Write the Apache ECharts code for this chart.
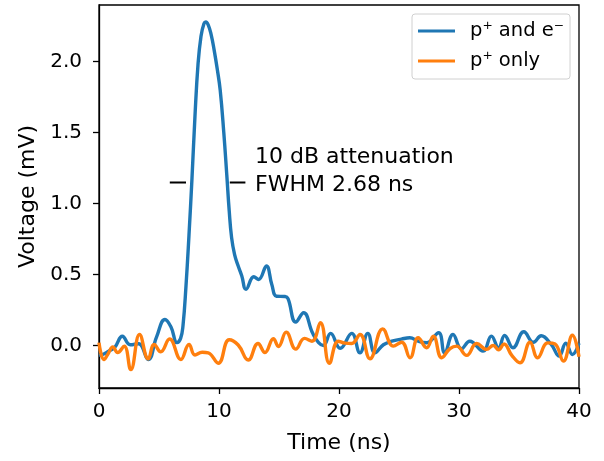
<!DOCTYPE html>
<html>
<head>
<meta charset="utf-8">
<script src="https://cdn.jsdelivr.net/npm/echarts@6/dist/echarts.min.js"></script>
<style>
  html, body { margin: 0; padding: 0; background: #fff; }
  #chart { width: 604px; height: 461px; }
</style>
</head>
<body>
<div id="chart"></div>
<script>
// p+ and e- (blue)
const blueTime = [0.0, 0.4, 0.8, 1.3, 1.95, 2.6, 3.3, 4.1, 4.8, 5.5, 6.0, 6.5, 6.8, 7.0, 7.25, 7.5, 7.75, 8.0, 8.25, 8.5,
  8.75, 8.9, 9.1, 9.35, 9.6, 9.85, 10.1, 10.4, 10.65, 10.85, 11.05, 11.3, 11.6, 11.9, 12.25, 12.9, 13.3, 13.95, 14.4, 14.8,
  15.5, 15.75, 16.4, 17.05, 17.8, 18.3, 18.7, 19.3, 20.1, 21.06, 21.75, 22.4, 23.0, 23.7, 24.4, 25.2, 25.9, 26.6, 27.3, 28.3,
  28.8, 29.5, 30.2, 30.9, 32.0, 32.7, 33.3, 33.8, 34.5, 35.4, 36.2, 36.85, 37.7, 38.35, 38.9, 39.45, 40.0];
const blueVolt = [-0.07, -0.06, -0.04, -0.015, 0.065, 0.005, 0.012, -0.1, 0.06, 0.183, 0.13, 0.02, 0.05, 0.14, 0.42, 0.78, 1.18, 1.62, 1.98, 2.18,
  2.27, 2.28, 2.26, 2.19, 2.08, 1.95, 1.8, 1.5, 1.2, 0.95, 0.76, 0.64, 0.56, 0.49, 0.395, 0.484, 0.465, 0.56, 0.43, 0.347,
  0.345, 0.33, 0.165, 0.23, 0.087, 0.02, 0.0, 0.085, -0.02, 0.085, -0.052, 0.085, -0.052, 0.005, 0.03, 0.045, 0.054, 0.03, 0.019, 0.089,
  -0.052, 0.077, -0.023, 0.03, -0.04, 0.066, -0.016, 0.07, -0.016, 0.097, 0.022, 0.068, 0.005, -0.075, 0.015, -0.064, 0.015];

// p+ only (orange)
const orangeTime = [0.0, 0.42, 0.75, 1.15, 1.55, 2.1, 2.65, 3.38, 4.1, 4.6, 5.14, 5.88, 6.82, 7.5, 8.0, 8.6, 9.1, 9.94, 10.85, 11.6,
  12.44, 13.25, 13.83, 14.53, 14.95, 15.6, 16.4, 17.13, 17.75, 18.45, 19.2, 19.94, 20.5, 21.06, 21.75, 22.58, 23.64, 24.53, 25.22, 25.92,
  26.6, 27.3, 27.86, 28.56, 29.25, 29.8, 30.64, 31.47, 32.3, 32.86, 33.3, 33.75, 34.4, 35.08, 35.92, 36.55, 37.4, 38.0, 38.7, 39.45, 40.0];
const orangeVolt = [0.02, -0.1, -0.06, -0.01, -0.05, -0.005, -0.17, 0.077, -0.095, 0.007, -0.045, 0.045, -0.099, 0.007, -0.067, -0.048, -0.052, -0.125, 0.04, 0.003,
  -0.103, 0.014, -0.05, 0.047, -0.007, 0.094, -0.026, 0.05, 0.03, 0.16, -0.125, 0.03, 0.016, 0.014, 0.077, -0.094, 0.117, -0.005, 0.023, -0.087,
  0.054, -0.016, 0.066, -0.087, -0.023, -0.005, -0.07, 0.014, -0.028, 0.0, -0.03, 0.01, -0.07, -0.122, 0.023, -0.087, 0.018, 0.01, -0.11, 0.072, -0.08];

// FWHM markers and annotation (data coordinates)
const fwhmLevel = 1.148;
const fwhmLeft = [5.9, 7.25];
const fwhmRight = [10.9, 12.2];
const notePos = [13.0, 1.225];
const noteText = '10 dB attenuation\nFWHM 2.68 ns';

const xTicks = [0, 10, 20, 30, 40];
const yTicks = [0, 0.5, 1.0, 1.5, 2.0];

const seriesNames = ['p\u207A and e\u207B', 'p\u207A only'];

const font = 'DejaVu Sans';

function pairs(xs, ys) {
  return xs.map((x, i) => [x, ys[i]]);
}

let chart = echarts.init(document.getElementById('chart'));
chart.setOption({
  animation: false,
  textStyle: { fontFamily: font },
  grid: {
    left: 99, right: 25, top: 5, bottom: 73,
    show: true, borderColor: '#000', borderWidth: 1.3
  },
  legend: {
    data: seriesNames,
    orient: 'vertical',
    left: 412, top: 14,
    icon: 'rect',
    itemWidth: 37, itemHeight: 3,
    itemGap: 8,
    padding: [6, 6, 7, 6],
    backgroundColor: '#fff',
    borderColor: '#d0d0d0',
    borderWidth: 1,
    borderRadius: 3,
    textStyle: { fontFamily: font, fontSize: 19.5, color: '#000', lineHeight: 22, padding: [0, 0, 0, 10] }
  },
  xAxis: {
    type: 'value',
    min: 0, max: 40, interval: 10,
    name: 'Time (ns)',
    nameLocation: 'middle',
    nameGap: 44,
    nameTextStyle: { fontFamily: font, fontSize: 22, color: '#000' },
    axisLine: { onZero: false, lineStyle: { color: '#000', width: 1.3 } },
    axisTick: { show: true, length: 6, lineStyle: { color: '#000', width: 1.3 } },
    axisLabel: { fontFamily: font, fontSize: 20, color: '#000', margin: 14 },
    splitLine: { show: false }
  },
  yAxis: {
    type: 'value',
    min: -0.3, max: 2.4,
    name: 'Voltage (mV)',
    nameLocation: 'middle',
    nameGap: 60,
    nameTextStyle: { fontFamily: font, fontSize: 22, color: '#000' },
    axisLine: { show: true, onZero: false, lineStyle: { color: '#000', width: 1.3 } },
    axisTick: { show: true, length: 6, customValues: yTicks, lineStyle: { color: '#000', width: 1.3 } },
    axisLabel: {
      fontFamily: font, fontSize: 20, color: '#000', margin: 17,
      customValues: yTicks,
      formatter: v => v.toFixed(1)
    },
    splitLine: { show: false }
  },
  series: [
    {
      name: seriesNames[0],
      type: 'line',
      data: pairs(blueTime, blueVolt),
      smooth: 0.45,
      showSymbol: false,
      color: '#1f77b4',
      lineStyle: { color: '#1f77b4', width: 3.4 },
      z: 3
    },
    {
      name: seriesNames[1],
      type: 'line',
      data: pairs(orangeTime, orangeVolt),
      smooth: 0.45,
      showSymbol: false,
      color: '#ff7f0e',
      lineStyle: { color: '#ff7f0e', width: 3.4 },
      z: 4
    },
    {
      name: 'fwhm',
      type: 'line',
      data: [[fwhmLeft[0], fwhmLevel], [fwhmLeft[1], fwhmLevel], [9, '-'], [fwhmRight[0], fwhmLevel], [fwhmRight[1], fwhmLevel]],
      showSymbol: false,
      silent: true,
      connectNulls: false,
      lineStyle: { color: '#000', width: 2 },
      z: 5
    }
  ]
});

// annotation text placed at its data position
let notePx = chart.convertToPixel({ gridIndex: 0 }, notePos);
chart.setOption({
  graphic: [{
    type: 'text',
    x: notePx[0],
    y: notePx[1],
    silent: true,
    z: 10,
    style: {
      text: noteText,
      fontFamily: font,
      fontSize: 22,
      lineHeight: 28,
      fill: '#000',
      align: 'left',
      verticalAlign: 'middle'
    }
  }]
});
</script>
</body>
</html>
